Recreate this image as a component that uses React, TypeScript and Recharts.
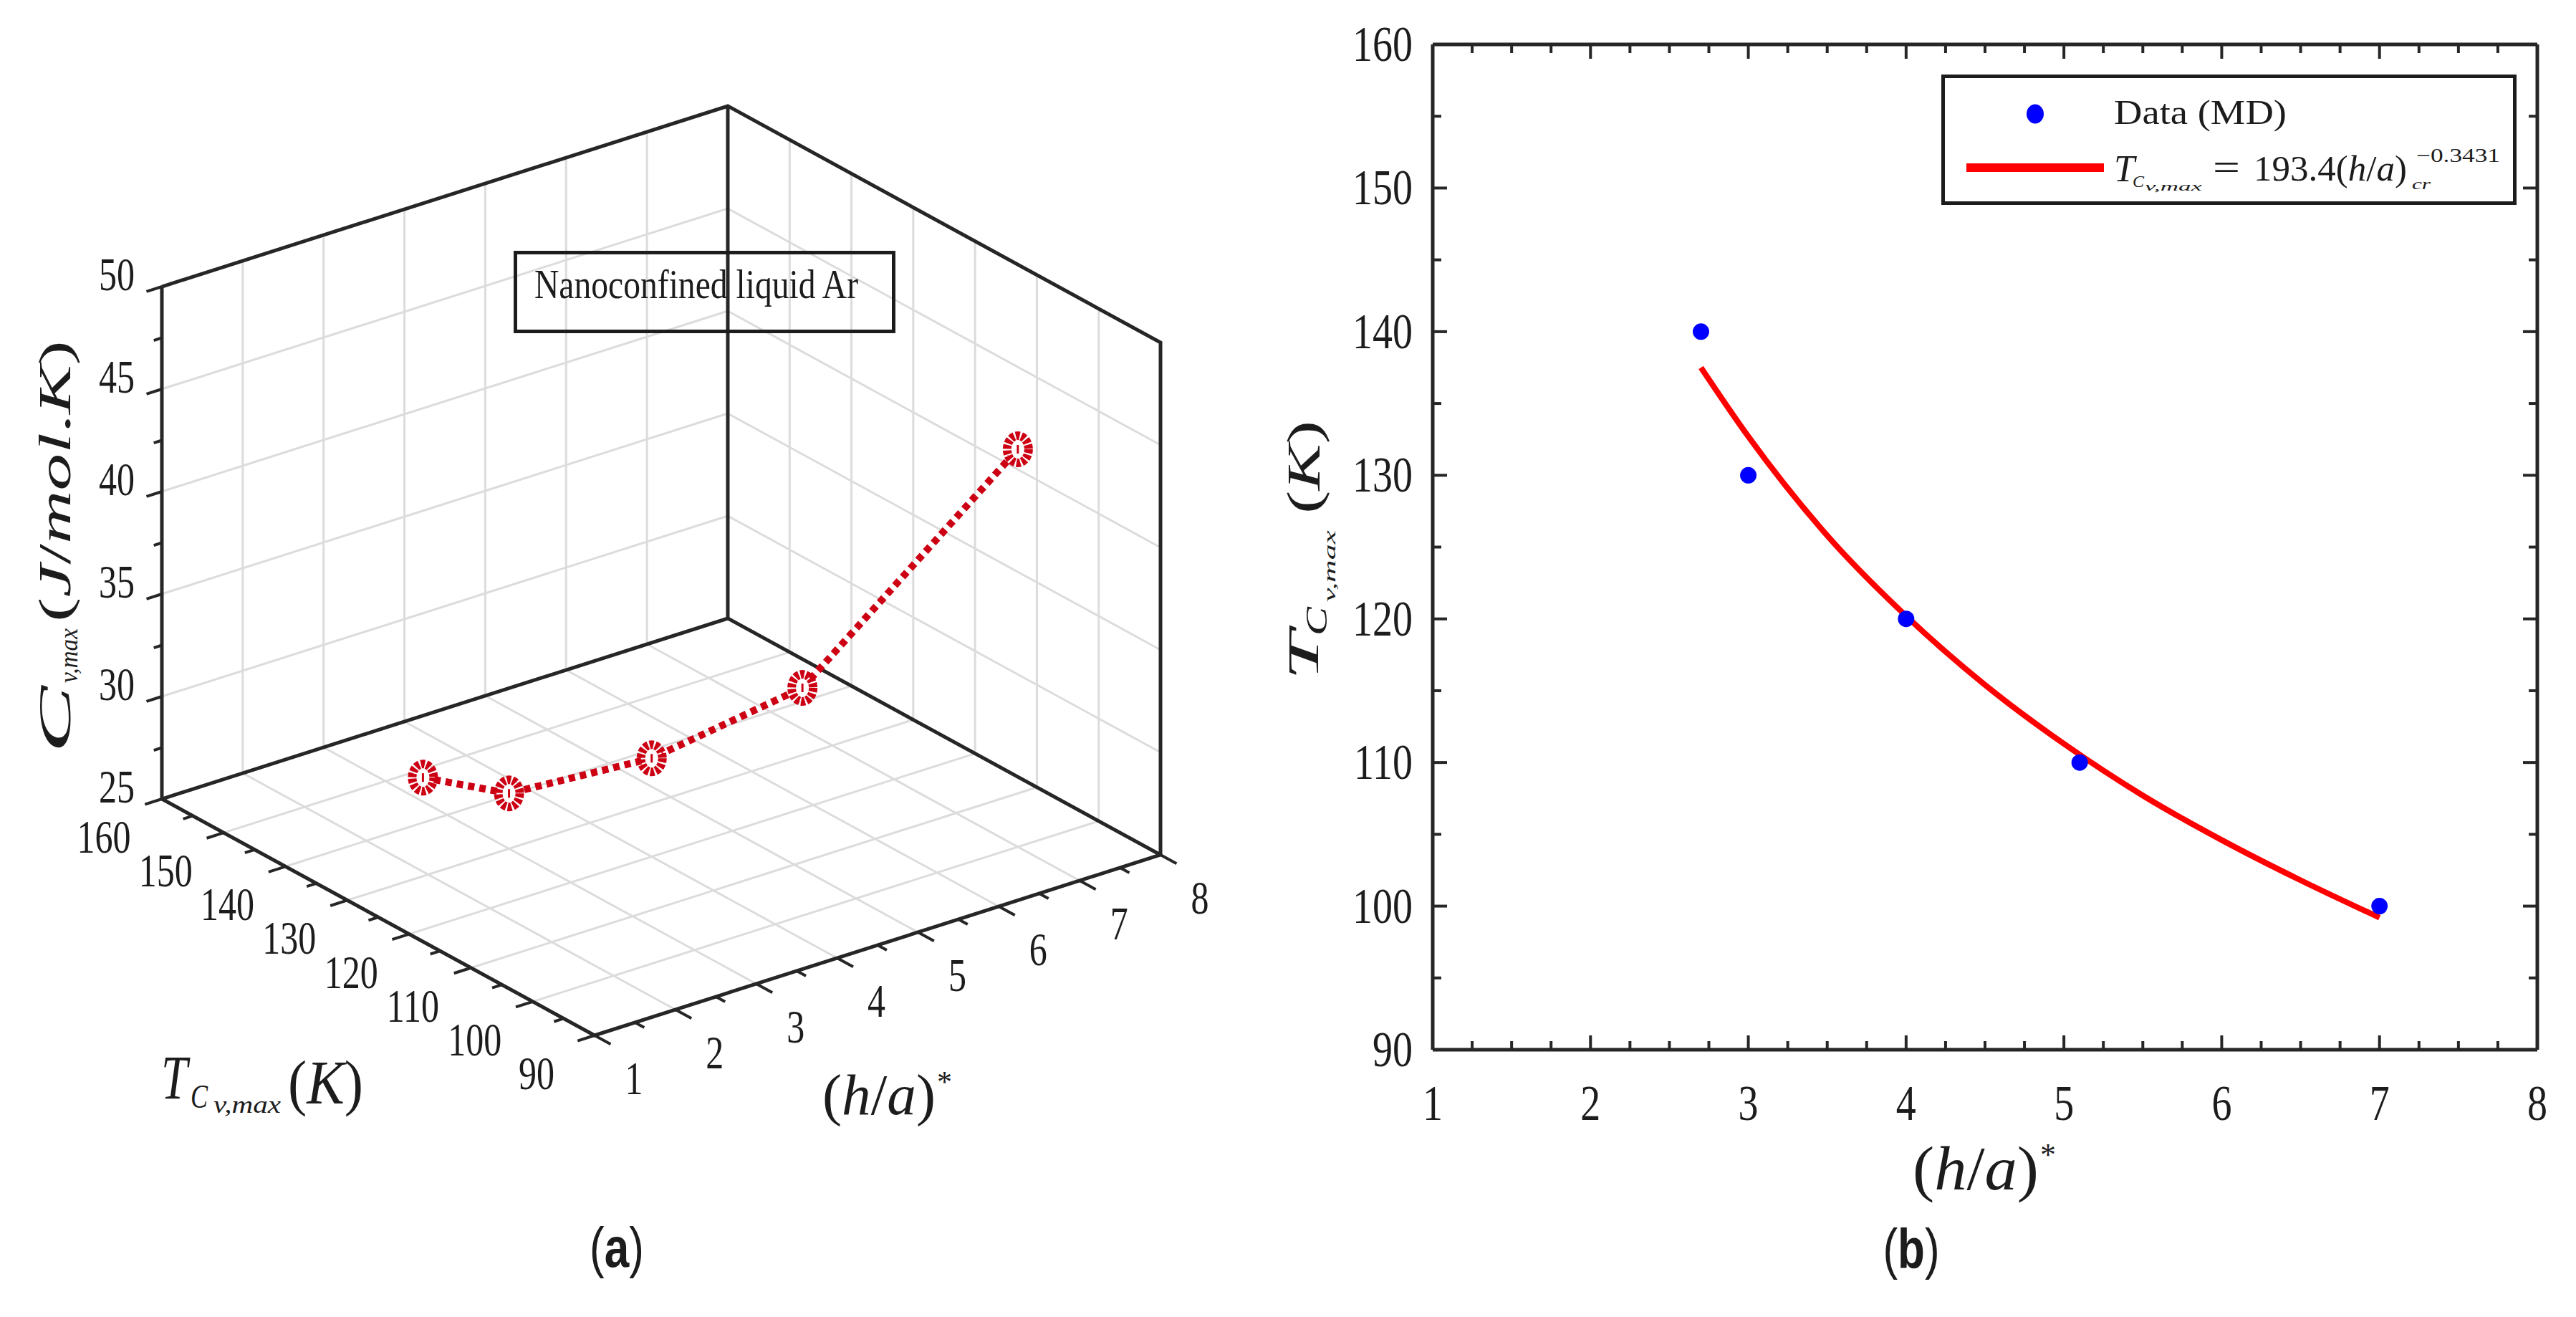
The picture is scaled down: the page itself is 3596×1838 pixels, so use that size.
// Two-panel figure: (a) 3-D view of Cv,max against T and (h/a)*, (b) power-law fit of T against (h/a)*.
// Panel (a) is an orthographic projection plotted on hidden pixel axes, so every mark still goes
// through Recharts scales.

import React from "react";
import { ComposedChart, Line, Scatter, XAxis, YAxis, Legend } from "recharts";

// values
const hRatio = [2.7, 3, 4, 5.1, 7];
const tcMax = [140, 130, 120, 110, 100];
const cvMax = [27.2, 27.7, 29.8, 33.5, 44.4];

// red fitted curve of panel (b), sampled along the drawn line
const fitH = [2.7, 3, 3.5, 4, 4.5, 5, 5.5, 6, 6.5, 7];
const fitT = [137.5, 132.7, 125.8, 120.2, 115.4, 111.3, 107.7, 104.6, 101.8, 99.2];

const hTicks = [1, 2, 3, 4, 5, 6, 7, 8];
const hHalfTicks = [1.5, 2.5, 3.5, 4.5, 5.5, 6.5, 7.5];
const hQuarterTicks = [
  1.25, 1.5, 1.75, 2.25, 2.5, 2.75, 3.25, 3.5, 3.75, 4.25, 4.5, 4.75,
  5.25, 5.5, 5.75, 6.25, 6.5, 6.75, 7.25, 7.5, 7.75,
];
const tTicks = [90, 100, 110, 120, 130, 140, 150, 160];
const tMinorTicks = [95, 105, 115, 125, 135, 145, 155];
const cvTicks = [25, 30, 35, 40, 45, 50];
const cvMinorTicks = [27.5, 32.5, 37.5, 42.5, 47.5];

const SERIF = '"Liberation Serif", "Times New Roman", serif';
const SANS = '"Liberation Sans", Arial, sans-serif';
const INK = "#1c1c1c";
const AXIS = "#262626";
const GRID = "#dcdcdc";
const RED_A = "#cc0012";
const RED_B = "#ff0000";
const BLUE = "#0000ff";

// ---------- panel (a): projection ----------
const H0 = 1, H1 = 8, T0 = 90, T1 = 160, C0 = 25, C1 = 50;
const ORIGIN = { x: 830, y: 1445 }; // pixel of (h=1, T=90, Cv=25)
const H_STEP = { x: 112.86, y: -36 };
const T_STEP = { x: -8.629, y: -4.714 };
const CV_STEP = 28.6;

type Pt = { px: number; py: number | null };

function project(h: number, t: number, c: number): Pt {
  return {
    px: ORIGIN.x + (h - H0) * H_STEP.x + (t - T0) * T_STEP.x,
    py: ORIGIN.y + (h - H0) * H_STEP.y + (t - T0) * T_STEP.y - (c - C0) * CV_STEP,
  };
}

// polylines joined with null gaps so one <Line> draws many segments
function polylines(paths: Pt[][]): Pt[] {
  return paths.flatMap((p) => [...p, { px: p[p.length - 1].px, py: null }]);
}

const inner = (a: number[]) => a.slice(1, -1);

const gridA = polylines([
  ...inner(hTicks).map((h) => [project(h, T0, C0), project(h, T1, C0)]),
  ...inner(tTicks).map((t) => [project(H0, t, C0), project(H1, t, C0)]),
  ...inner(hTicks).map((h) => [project(h, T1, C0), project(h, T1, C1)]),
  ...inner(cvTicks).map((c) => [project(H0, T1, c), project(H1, T1, c)]),
  ...inner(tTicks).map((t) => [project(H1, t, C0), project(H1, t, C1)]),
  ...inner(cvTicks).map((c) => [project(H1, T1, c), project(H1, T0, c)]),
]);

const boxA = polylines([
  [
    project(H0, T1, C1), project(H0, T1, C0), project(H0, T0, C0), project(H1, T0, C0),
    project(H1, T0, C1), project(H1, T1, C1), project(H0, T1, C1),
  ],
  [project(H0, T1, C0), project(H1, T1, C0), project(H1, T0, C0)],
  [project(H1, T1, C0), project(H1, T1, C1)],
]);

const ticksA = polylines([
  ...hTicks.map((h) => [project(h, T0, C0), project(h, T0 - 2.6, C0)]),
  ...hHalfTicks.map((h) => [project(h, T0, C0), project(h, T0 - 1.5, C0)]),
  ...tTicks.map((t) => [project(H0, t, C0), project(H0 - 0.21, t, C0)]),
  ...tMinorTicks.map((t) => [project(H0, t, C0), project(H0 - 0.12, t, C0)]),
  ...cvTicks.map((c) => [project(H0, T1, c), project(H0 - 0.19, T1, c)]),
  ...cvMinorTicks.map((c) => [project(H0, T1, c), project(H0 - 0.1, T1, c)]),
]);

const hLabelsA = hTicks.map((h) => ({ ...project(h, T0, C0), label: h }));
const tLabelsA = tTicks.map((t) => ({ ...project(H0, t, C0), label: t }));
const cvLabelsA = cvTicks.map((c) => ({ ...project(H0, T1, c), label: c }));

const seriesA = hRatio.map((h, i) => project(h, tcMax[i], cvMax[i]));

// ---------- panel (b) ----------
const pointsB = hRatio.map((h, i) => ({ h, t: tcMax[i] }));
const fitB = fitH.map((h, i) => ({ h, t: fitT[i] }));

interface TxtProps {
  x: number;
  y: number;
  size: number;
  sy?: number;
  rot?: number;
  anchor?: "start" | "middle" | "end";
  italic?: boolean;
  bold?: boolean;
  family?: string;
  len?: number;
  children?: React.ReactNode;
}

function Txt({ x, y, size, sy = 1, rot = 0, anchor = "start", italic, bold, family = SERIF, len, children }: TxtProps) {
  const tf = `translate(${x},${y})${rot ? ` rotate(${rot})` : ""}${sy !== 1 ? ` scale(1,${sy})` : ""}`;
  return (
    <text
      transform={tf}
      fontSize={size}
      fontFamily={family}
      fontStyle={italic ? "italic" : "normal"}
      fontWeight={bold ? "bold" : "normal"}
      textAnchor={anchor}
      fill={INK}
      textLength={len}
      lengthAdjust={len ? "spacingAndGlyphs" : undefined}
    >
      {children}
    </text>
  );
}

function CogMarker(p: any) {
  if (p.cx == null || p.cy == null) return <g key={p.index} />;
  return (
    <g key={p.index}>
      <ellipse cx={p.cx} cy={p.cy} rx={15} ry={19} fill="#fff" stroke={RED_A} strokeWidth={12} strokeDasharray="5.5 2.2" />
      <line x1={p.cx} y1={p.cy - 6} x2={p.cx} y2={p.cy + 6} stroke={RED_A} strokeWidth={3} />
    </g>
  );
}

const hLabelShape = (p: any) => (
  <Txt x={p.cx + 55} y={p.cy + 82} size={50} sy={1.3} anchor="middle">{p.payload.label}</Txt>
);
const tLabelShape = (p: any) => (
  <Txt x={p.cx - 81} y={p.cy + 75} size={50} sy={1.3} anchor="middle">{p.payload.label}</Txt>
);
const cvLabelShape = (p: any) => (
  <Txt x={p.cx - 38} y={p.cy + 5} size={50} sy={1.3} anchor="end">{p.payload.label}</Txt>
);

function LegendA() {
  return (
    <svg width={533} height={115} style={{ display: "block" }}>
      <rect x={2.5} y={2.5} width={528} height={110} fill="none" stroke={INK} strokeWidth={5} />
      <Txt x={29} y={66} size={46} sy={1.25} len={452}>Nanoconfined liquid Ar</Txt>
    </svg>
  );
}

function LegendB() {
  return (
    <svg width={803} height={182} style={{ display: "block" }}>
      <rect x={2.5} y={2.5} width={798} height={177} fill="#fff" stroke={INK} strokeWidth={5} />
      <ellipse cx={131} cy={55} rx={12} ry={13.5} fill={BLUE} />
      <Txt x={241} y={69} size={44} sy={1.1} len={241}>Data (MD)</Txt>
      <line x1={35} y1={130} x2={227} y2={130} stroke={RED_B} strokeWidth={12} />
      <Txt x={241} y={149} size={52} italic>T</Txt>
      <Txt x={267} y={157} size={24} italic>C</Txt>
      <Txt x={284} y={162} size={17} italic len={80}>v,max</Txt>
      <Txt x={379} y={147} size={52} len={38}>=</Txt>
      <Txt x={436} y={148} size={44} sy={1.15} len={214}>
        193.4(<tspan fontStyle="italic">h</tspan>/<tspan fontStyle="italic">a</tspan>)
      </Txt>
      <Txt x={657} y={160} size={22} italic len={26}>cr</Txt>
      <Txt x={663} y={122} size={27} len={117}>−0.3431</Txt>
    </svg>
  );
}

function BottomTickB(p: any) {
  const v = p.payload.value;
  const major = Number.isInteger(v);
  return (
    <g>
      <line x1={p.x} y1={p.y} x2={p.x} y2={p.y - (major ? 20 : 12)} stroke={AXIS} strokeWidth={4} />
      {major && <Txt x={p.x} y={p.y + 98} size={56} sy={1.25} anchor="middle">{v}</Txt>}
    </g>
  );
}

function TopTickB(p: any) {
  const major = Number.isInteger(p.payload.value);
  return <line x1={p.x} y1={p.y} x2={p.x} y2={p.y + (major ? 20 : 12)} stroke={AXIS} strokeWidth={4} />;
}

function LeftTickB(p: any) {
  const v = p.payload.value;
  const major = v % 10 === 0;
  return (
    <g>
      <line x1={p.x} y1={p.y} x2={p.x + (major ? 20 : 12)} y2={p.y} stroke={AXIS} strokeWidth={4} />
      {major && <Txt x={p.x - 28} y={p.y + 23} size={56} sy={1.25} anchor="end">{v}</Txt>}
    </g>
  );
}

function RightTickB(p: any) {
  const major = p.payload.value % 10 === 0;
  return <line x1={p.x} y1={p.y} x2={p.x - (major ? 20 : 12)} y2={p.y} stroke={AXIS} strokeWidth={4} />;
}

const boxAxis = { stroke: AXIS, strokeWidth: 5 };

function Panel3D() {
  return (
    <ComposedChart width={1700} height={1838} margin={{ top: 0, right: 0, bottom: 0, left: 0 }}>
      <XAxis type="number" dataKey="px" domain={[0, 1700]} allowDataOverflow hide />
      <YAxis type="number" dataKey="py" domain={[0, 1838]} allowDataOverflow reversed hide />
      <Line data={gridA} dataKey="py" stroke={GRID} strokeWidth={3} dot={false} activeDot={false} isAnimationActive={false} />
      <Line data={boxA} dataKey="py" stroke={AXIS} strokeWidth={5} dot={false} activeDot={false} isAnimationActive={false} />
      <Line data={ticksA} dataKey="py" stroke={AXIS} strokeWidth={4} dot={false} activeDot={false} isAnimationActive={false} />
      <Scatter data={hLabelsA} dataKey="py" shape={hLabelShape} isAnimationActive={false} />
      <Scatter data={tLabelsA} dataKey="py" shape={tLabelShape} isAnimationActive={false} />
      <Scatter data={cvLabelsA} dataKey="py" shape={cvLabelShape} isAnimationActive={false} />
      <Line
        data={seriesA}
        dataKey="py"
        stroke={RED_A}
        strokeWidth={10}
        strokeDasharray="9 7"
        dot={CogMarker}
        activeDot={false}
        isAnimationActive={false}
      />
      <Legend
        layout="vertical"
        align="center"
        verticalAlign="middle"
        wrapperStyle={{ left: 717, top: 350, width: 533, height: 115 }}
        content={() => <LegendA />}
      />
    </ComposedChart>
  );
}

function PanelFit() {
  return (
    <ComposedChart width={1896} height={1838} margin={{ top: 42, right: 34, bottom: 253, left: 0 }}>
      <XAxis
        xAxisId="bottom" orientation="bottom" type="number" dataKey="h" domain={[1, 8]} allowDataOverflow
        ticks={[...hTicks, ...hQuarterTicks]} interval={0} tickSize={0} tickMargin={0} tickLine={false}
        axisLine={boxAxis} tick={BottomTickB} height={120}
      />
      <XAxis
        xAxisId="top" orientation="top" type="number" dataKey="h" domain={[1, 8]} allowDataOverflow
        ticks={[...hTicks, ...hQuarterTicks]} interval={0} tickSize={0} tickMargin={0} tickLine={false}
        axisLine={boxAxis} tick={TopTickB} height={20}
      />
      <YAxis
        yAxisId="left" orientation="left" type="number" dataKey="t" domain={[90, 160]} allowDataOverflow
        ticks={[...tTicks, ...tMinorTicks]} interval={0} tickSize={0} tickMargin={0} tickLine={false}
        axisLine={boxAxis} tick={LeftTickB} width={300}
      />
      <YAxis
        yAxisId="right" orientation="right" type="number" dataKey="t" domain={[90, 160]} allowDataOverflow
        ticks={[...tTicks, ...tMinorTicks]} interval={0} tickSize={0} tickMargin={0} tickLine={false}
        axisLine={boxAxis} tick={RightTickB} width={20}
      />
      <Line
        xAxisId="bottom" yAxisId="left" data={fitB} dataKey="t" type="monotone"
        stroke={RED_B} strokeWidth={8} dot={false} activeDot={false} isAnimationActive={false}
      />
      <Scatter
        xAxisId="bottom" yAxisId="left" data={pointsB} dataKey="t" fill={BLUE}
        shape={(p: any) => <circle cx={p.cx} cy={p.cy} r={11.5} fill={BLUE} />}
        isAnimationActive={false}
      />
      <Line xAxisId="top" yAxisId="right" data={fitB} dataKey="t" stroke="none" dot={false} activeDot={false} isAnimationActive={false} />
      <Legend
        layout="vertical"
        align="center"
        verticalAlign="middle"
        wrapperStyle={{ left: 1010, top: 104, width: 803, height: 182 }}
        content={() => <LegendB />}
      />
    </ComposedChart>
  );
}

function Titles() {
  return (
    <svg width={3596} height={1838} style={{ position: "absolute", left: 0, top: 0, pointerEvents: "none" }}>
      {/* panel (a) */}
      <Txt x={98} y={1051} rot={-90} size={64} italic len={94}>C</Txt>
      <Txt x={108} y={953} rot={-90} size={36} italic len={76}>v,max</Txt>
      <Txt x={98} y={868} rot={-90} size={64} len={393}>
        (<tspan fontStyle="italic">J</tspan>/<tspan fontStyle="italic">mol</tspan>.<tspan fontStyle="italic">K</tspan>)
      </Txt>
      <Txt x={225} y={1533} size={66} sy={1.3} italic>T</Txt>
      <Txt x={266} y={1546} size={36} sy={1.3} italic>C</Txt>
      <Txt x={298} y={1553} size={26} sy={1.3} italic len={94}>v,max</Txt>
      <Txt x={402} y={1540} size={66} sy={1.3} len={105}>
        (<tspan fontStyle="italic">K</tspan>)
      </Txt>
      <Txt x={1148} y={1555} size={62} sy={1.3} len={158}>
        (<tspan fontStyle="italic">h</tspan>/<tspan fontStyle="italic">a</tspan>)
      </Txt>
      <Txt x={1308} y={1524} size={42}>*</Txt>
      <Txt x={861} y={1768} size={62} sy={1.25} anchor="middle" family={SANS}>
        (<tspan fontWeight="bold">a</tspan>)
      </Txt>

      {/* panel (b) */}
      <Txt x={1840} y={950} rot={-90} size={62} italic len={70}>T</Txt>
      <Txt x={1852} y={887} rot={-90} size={42} italic len={40}>C</Txt>
      <Txt x={1864} y={840} rot={-90} size={24} italic len={100}>v,max</Txt>
      <Txt x={1842} y={717} rot={-90} size={66} len={130}>
        (<tspan fontStyle="italic">K</tspan>)
      </Txt>
      <Txt x={2670} y={1660} size={66} sy={1.3} len={176}>
        (<tspan fontStyle="italic">h</tspan>/<tspan fontStyle="italic">a</tspan>)
      </Txt>
      <Txt x={2848} y={1626} size={44}>*</Txt>
      <Txt x={2668} y={1770} size={62} sy={1.25} anchor="middle" family={SANS}>
        (<tspan fontWeight="bold">b</tspan>)
      </Txt>
    </svg>
  );
}

export default function App() {
  return (
    <div style={{ position: "absolute", left: 0, top: 0, width: 3596, height: 1838, background: "#fff", overflow: "hidden" }}>
      <div style={{ position: "absolute", left: 0, top: 0 }}>
        <Panel3D />
      </div>
      <div style={{ position: "absolute", left: 1700, top: 0 }}>
        <PanelFit />
      </div>
      <Titles />
    </div>
  );
}
